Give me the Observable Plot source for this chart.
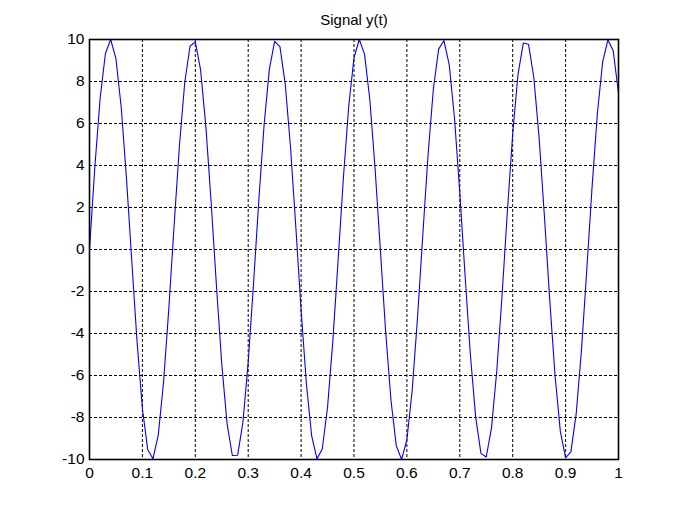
<!DOCTYPE html>
<html>
<head>
<meta charset="utf-8">
<script src="https://cdn.jsdelivr.net/npm/d3@7"></script>
<script src="https://cdn.jsdelivr.net/npm/@observablehq/plot@0.6"></script>
<style>
  html, body { margin: 0; padding: 0; background: #fff; }
  #chart { width: 682px; height: 517px; }
</style>
</head>
<body>
<div id="chart"></div>
<script>
const title = "Signal y(t)";
const tValues = [0,0.01,0.02,0.03,0.04,0.05,0.06,0.07,0.08,0.09,0.1,0.11,0.12,0.13,0.14,0.15,0.16,0.17,0.18,0.19,0.2,0.21,0.22,0.23,0.24,0.25,0.26,0.27,0.28,0.29,0.3,0.31,0.32,0.33,0.34,0.35,0.36,0.37,0.38,0.39,0.4,0.41,0.42,0.43,0.44,0.45,0.46,0.47,0.48,0.49,0.5,0.51,0.52,0.53,0.54,0.55,0.56,0.57,0.58,0.59,0.6,0.61,0.62,0.63,0.64,0.65,0.66,0.67,0.68,0.69,0.7,0.71,0.72,0.73,0.74,0.75,0.76,0.77,0.78,0.79,0.8,0.81,0.82,0.83,0.84,0.85,0.86,0.87,0.88,0.89,0.9,0.91,0.92,0.93,0.94,0.95,0.96,0.97,0.98,0.99,1];
const yValues = [0,3.89,7.17,9.32,10.0,9.09,6.76,3.35,-0.58,-4.43,-7.57,-9.52,-9.96,-8.84,-6.31,-2.79,1.17,4.94,7.94,9.68,9.89,8.55,5.85,2.23,-1.74,-5.44,-8.28,-9.81,-9.80,-8.23,-5.37,-1.66,2.32,5.92,8.59,9.91,9.66,7.89,4.87,1.08,-2.88,-6.38,-8.88,-9.97,-9.50,-7.51,-4.35,-0.50,3.43,6.82,9.13,10.0,9.29,7.12,3.81,-0.09,-3.98,-7.20,-9.35,-10.0,-9.06,-6.70,-3.27,0.67,4.51,7.63,9.54,9.95,8.80,6.25,2.71,-1.25,-5.01,-7.98,-9.71,-9.88,-8.48,-5.75,-2.14,1.83,5.51,8.33,9.83,9.77,8.18,5.29,1.57,-2.40,-5.99,-8.65,-9.92,-9.64,-7.83,-4.79,-0.99,2.96,6.45,8.92,9.98,9.46,7.45];
const xTicks = [0,0.1,0.2,0.3,0.4,0.5,0.6,0.7,0.8,0.9,1];
const yTicks = [-10,-8,-6,-4,-2,0,2,4,6,8,10];

const data = tValues.map((t, i) => ({t, y: yValues[i]}));

const chart = Plot.plot({
  width: 682,
  height: 517,
  marginLeft: 89,
  marginRight: 64,
  marginTop: 39,
  marginBottom: 58,
  style: {fontFamily: "'Liberation Sans', Arial, sans-serif", fontSize: "15px", color: "#000", background: "#fff"},
  x: {domain: [0, 1], ticks: xTicks, tickFormat: d => String(d), label: null},
  y: {domain: [-10, 10], ticks: yTicks, tickFormat: d => String(d), label: null},
  marks: [
    Plot.gridX(xTicks, {stroke: "#000", strokeOpacity: 1, strokeWidth: 1, strokeDasharray: "3,2"}),
    Plot.gridY(yTicks, {stroke: "#000", strokeOpacity: 1, strokeWidth: 1, strokeDasharray: "3,2"}),
    Plot.line(data, {x: "t", y: "y", stroke: "#0000ff", strokeWidth: 1.1, clip: true}),
    Plot.frame({stroke: "#000", strokeWidth: 1.6}),
    Plot.axisX(xTicks, {tickSize: 0, tickPadding: 7, tickFormat: d => String(d), fontSize: 15.5, fill: "#000"}),
    Plot.axisY(yTicks, {tickSize: 0, tickPadding: 5, tickFormat: d => String(d), fontSize: 15.5, fill: "#000"}),
    Plot.text([title], {frameAnchor: "top", lineAnchor: "middle", dy: -19, fontSize: 15, fill: "#000"})
  ]
});
document.getElementById("chart").appendChild(chart);
</script>
</body>
</html>
